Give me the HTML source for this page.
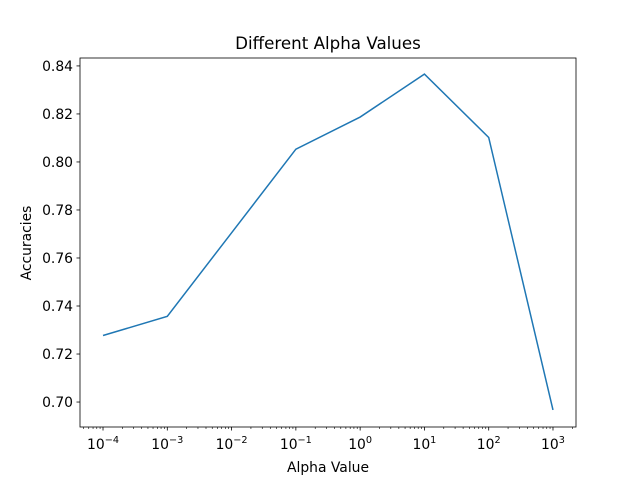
<!DOCTYPE html>
<html><head><meta charset="utf-8"><style>body{margin:0;background:#fff}svg{font-family:"DejaVu Sans","Liberation Sans",sans-serif}</style></head>
<body>
<svg id="c" width="640" height="480" xmlns="http://www.w3.org/2000/svg"></svg>
<script>
const alphaExps = [-4,-3,-2,-1,0,1,2,3];
const accuracies = [0.7277,0.7357,0.7705,0.8053,0.8187,0.8366,0.8102,0.6967];
const yTicks = [0.70,0.72,0.74,0.76,0.78,0.80,0.82,0.84];
const xTickExps = [-4,-3,-2,-1,0,1,2,3];
const L=80,R=576,T=58,B=427, xmin=-4.358,xmax=3.358,ymin=0.6896,ymax=0.8433;
const X=e=>L+(e-xmin)/(xmax-xmin)*(R-L);
const Y=v=>B-(v-ymin)/(ymax-ymin)*(B-T);
const svg=document.getElementById('c');const NS='http://www.w3.org/2000/svg';
function el(t,a,p){const e=document.createElementNS(NS,t);for(const k in a)e.setAttribute(k,a[k]);(p||svg).appendChild(e);return e;}
let line=el('polyline',{points:alphaExps.map((e,i)=>X(e)+','+Y(accuracies[i])).join(' '),fill:'none',stroke:'#1f77b4','stroke-width':1.5});


let fr=el('rect',{x:L,y:T,width:R-L,height:B-T,fill:'none',stroke:'#000','stroke-width':0.8});


yTicks.forEach(v=>{const y=Y(v);el('line',{x1:L-3.5,x2:L,y1:y,y2:y,stroke:'#000','stroke-width':0.8});
 const t=el('text',{x:L-7,y:y+5,'font-size':13.9,'text-anchor':'end'});t.textContent=v.toFixed(2);
 
 });
xTickExps.forEach(e=>{const x=X(e);el('line',{x1:x,x2:x,y1:B,y2:B+3.5,stroke:'#000','stroke-width':0.8});
 const t=el('text',{x:x,y:B+22,'font-size':13.9,'text-anchor':'middle'});
 
 
 const a=el('tspan',{},t);a.textContent='10';const s=el('tspan',{dy:-6,'font-size':9.7},t);s.textContent=(e<0?'\u2212'+(-e):e);});
for(let d=-5;d<=3;d++)for(let s=2;s<10;s++){const e=d+Math.log10(s);if(e<xmin||e>xmax)continue;const x=X(e);el('line',{x1:x,x2:x,y1:B,y2:B+2,stroke:'#000','stroke-width':0.6});}
let t=el('text',{x:328,y:49,'font-size':16.7,'text-anchor':'middle'});t.textContent='Different Alpha Values';

t=el('text',{x:328,y:472,'font-size':13.9,'text-anchor':'middle'});t.textContent='Alpha Value';

t=el('text',{x:31,y:243,'font-size':13.9,'text-anchor':'middle',transform:'rotate(-90 31 243)'});t.textContent='Accuracies';

</script>
</body></html>
